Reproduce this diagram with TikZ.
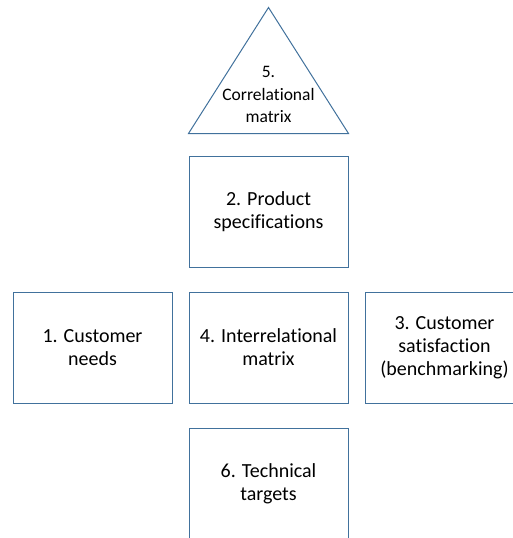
\documentclass[tikz,border=0pt]{standalone}
\usepackage{fontspec}
\setmainfont{Carlito}[Ligatures=NoCommon]
\usetikzlibrary{positioning}

\definecolor{qfdblue}{HTML}{41719C}

\tikzset{
    qfdbox/.style={draw=qfdblue, line width=1pt, minimum width=159pt, minimum height=111pt,
        inner sep=0pt, align=center, font=\fontsize{20}{23}\selectfont},
}

\begin{document}
\begin{tikzpicture}[x=1pt, y=1pt]
        \clip (0,0) rectangle (513,-538);
        \node[qfdbox] (inter) at (268.5,-347.5) {4. Interrelational\\matrix};
        \node[qfdbox, above=24pt of inter] (spec) {2. Product\\specifications};
        \node[qfdbox, left=16pt of inter] (needs) {1. Customer\\needs};
        \node[qfdbox, right=16pt of inter] (satis) {3. Customer\\satisfaction\\(benchmarking)};
        \node[qfdbox, below=24pt of inter] (targets) {6. Technical\\targets};
        % roof of the house
        \coordinate (roofL) at ([yshift=22pt]spec.north west);
        \coordinate (roofR) at ([yshift=22pt]spec.north east);
        \coordinate (roofT) at ([yshift=148pt]spec.north);
        \draw[qfdblue, line width=1pt] (roofL) -- (roofT) -- (roofR) -- cycle;
        \node[align=center, inner sep=0pt, font=\fontsize{17.5}{22.5}\selectfont] (corr) at (268.5,-94.5) {5.\\Correlational\\matrix};
    \end{tikzpicture}
\end{document}
